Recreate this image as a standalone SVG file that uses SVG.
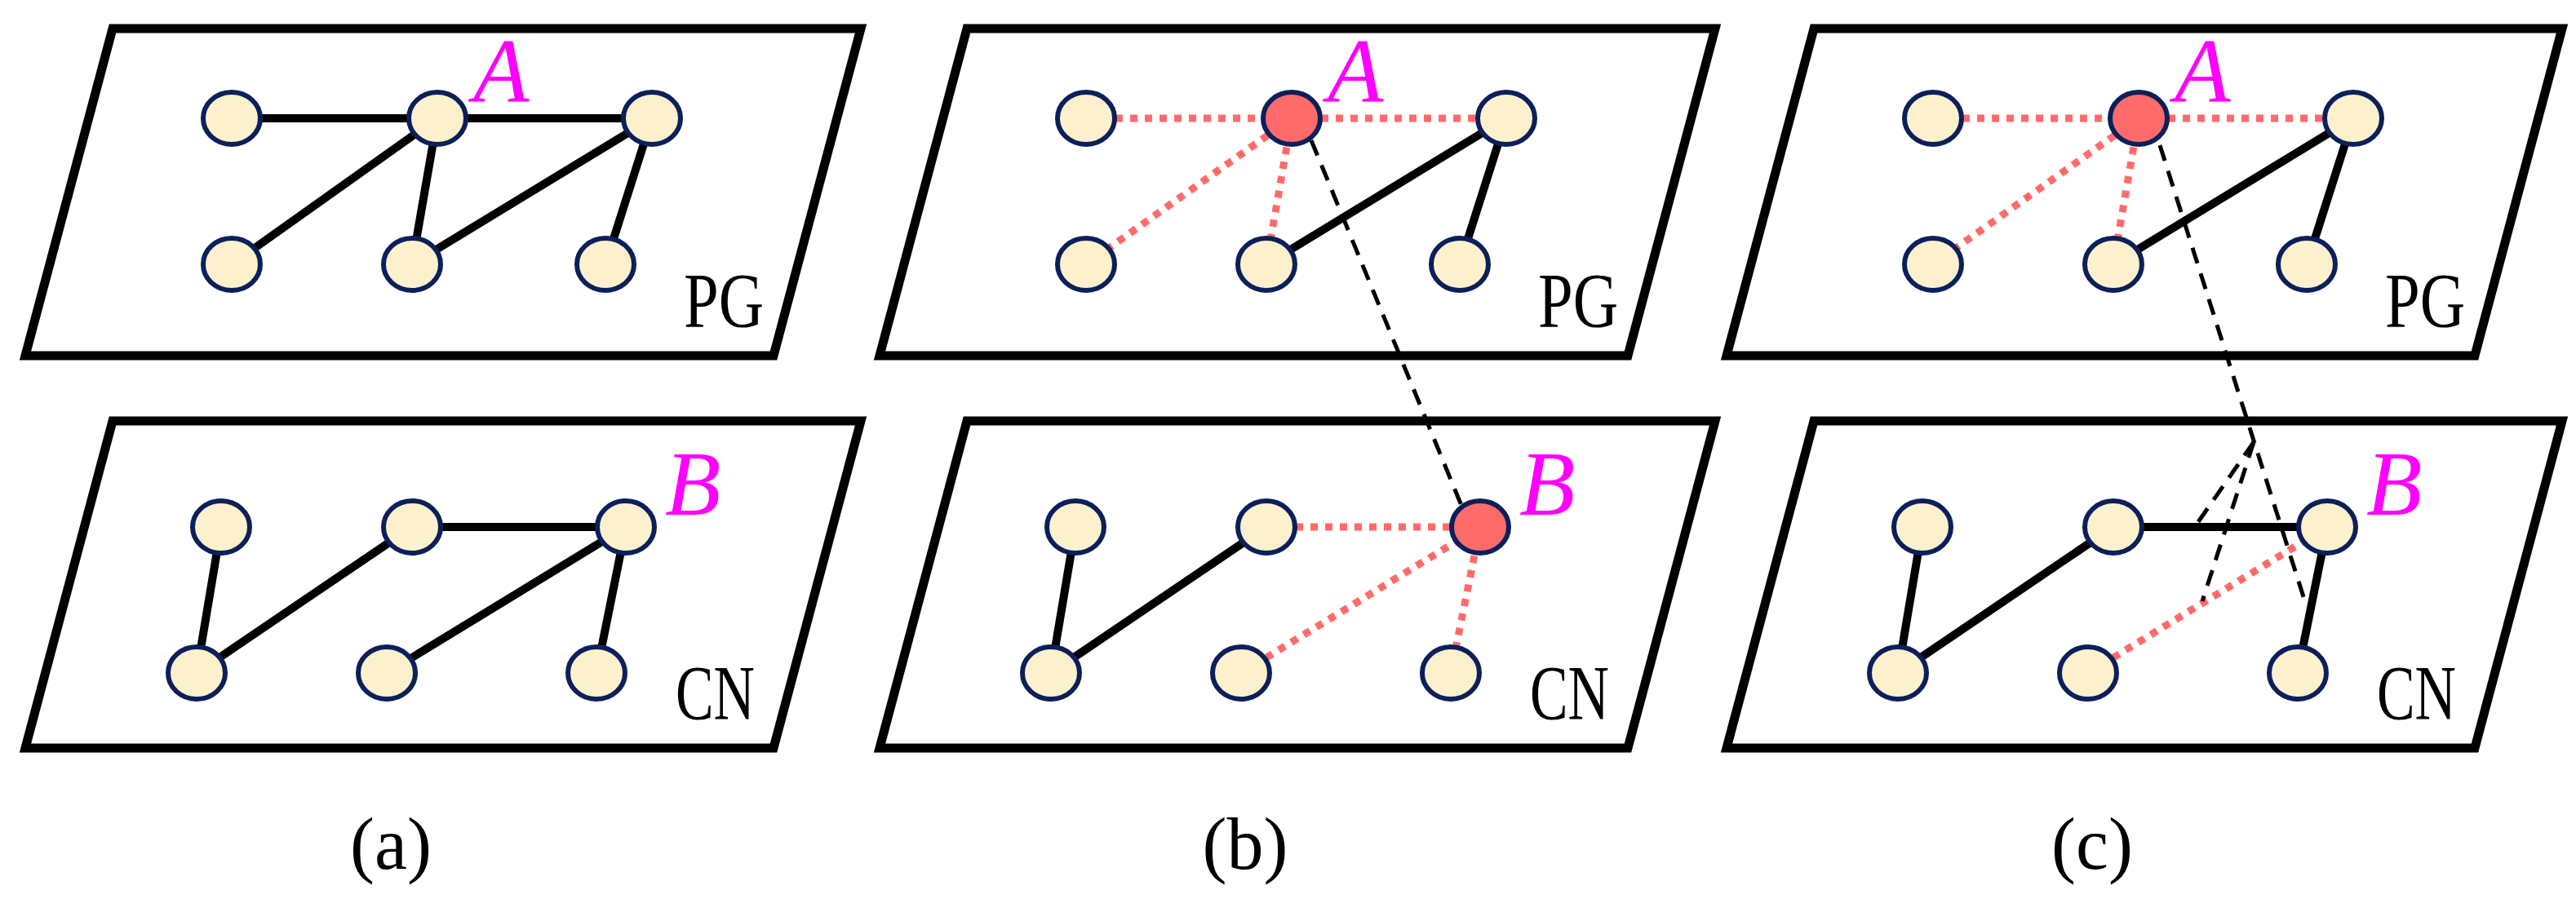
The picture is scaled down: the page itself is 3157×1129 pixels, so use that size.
<svg xmlns="http://www.w3.org/2000/svg" width="3157" height="1129" viewBox="0 0 3157 1129">
<defs>
<style>
.plane{fill:#fff;stroke:#000;stroke-width:11;stroke-linejoin:miter}
.n{fill:#fdf0cc;stroke:#0b1f5a;stroke-width:6}
.r{fill:#ff6b6b;stroke:#0b1f5a;stroke-width:6}
.e{stroke:#000;stroke-width:10;fill:none}
.d{stroke:#ff6b6b;stroke-width:9;stroke-dasharray:9 9;fill:none}
.k{stroke:#000;stroke-width:5;stroke-dasharray:20 13;fill:none}
.lab{font-family:"Liberation Serif",serif;font-size:96px;fill:#000}
.ab{font-family:"Liberation Serif",serif;font-style:italic;font-size:112px;fill:#ff00ff}
.cap{font-family:"Liberation Serif",serif;font-size:90px;fill:#000;text-anchor:middle}
</style>
</defs>
<g id="panel-a">
<polygon class="plane" points="138,35 1055,35 948,436 31,436"/>
<polygon class="plane" points="138,516 1055,516 948,917 31,917"/>
<g id="a-edges">
<line class="e" x1="284" y1="145" x2="536" y2="145"/><line class="e" x1="536" y1="145" x2="799" y2="145"/>
<line class="e" x1="536" y1="145" x2="284" y2="324"/><line class="e" x1="536" y1="145" x2="505" y2="324"/>
<line class="e" x1="505" y1="324" x2="799" y2="145"/><line class="e" x1="799" y1="145" x2="742" y2="324"/>
<line class="e" x1="271" y1="646" x2="241" y2="825"/><line class="e" x1="241" y1="825" x2="505" y2="646"/>
<line class="e" x1="505" y1="646" x2="767" y2="646"/><line class="e" x1="474" y1="825" x2="767" y2="646"/>
<line class="e" x1="767" y1="646" x2="731" y2="825"/>
</g>
<g id="a-nodes">
<ellipse class="n" cx="284" cy="145" rx="35" ry="32"/><ellipse class="n" cx="536" cy="145" rx="35" ry="32"/><ellipse class="n" cx="799" cy="145" rx="35" ry="32"/>
<ellipse class="n" cx="284" cy="324" rx="35" ry="32"/><ellipse class="n" cx="505" cy="324" rx="35" ry="32"/><ellipse class="n" cx="742" cy="324" rx="35" ry="32"/>
<ellipse class="n" cx="271" cy="646" rx="35" ry="32"/><ellipse class="n" cx="505" cy="646" rx="35" ry="32"/><ellipse class="n" cx="767" cy="646" rx="35" ry="32"/>
<ellipse class="n" cx="241" cy="825" rx="35" ry="32"/><ellipse class="n" cx="474" cy="825" rx="35" ry="32"/><ellipse class="n" cx="731" cy="825" rx="35" ry="32"/>
</g>
<text class="ab" x="580" y="125">A</text><text class="ab" x="815" y="631">B</text>
<text class="lab" x="838" y="401" textLength="98" lengthAdjust="spacingAndGlyphs">PG</text>
<text class="lab" x="828" y="882" textLength="97" lengthAdjust="spacingAndGlyphs">CN</text>
<text class="cap" x="479" y="1065">(a)</text>
</g>
<g id="panel-b" transform="translate(1047,0)">
<polygon class="plane" points="138,35 1055,35 948,436 31,436"/>
<polygon class="plane" points="138,516 1055,516 948,917 31,917"/>
<g id="b-edges">
<line class="d" x1="284" y1="145" x2="536" y2="145"/><line class="d" x1="536" y1="145" x2="799" y2="145"/>
<line class="d" x1="536" y1="145" x2="284" y2="324"/><line class="d" x1="536" y1="145" x2="505" y2="324"/>
<line class="e" x1="505" y1="324" x2="799" y2="145"/><line class="e" x1="799" y1="145" x2="742" y2="324"/>
<line class="e" x1="271" y1="646" x2="241" y2="825"/><line class="e" x1="241" y1="825" x2="505" y2="646"/>
<line class="d" x1="505" y1="646" x2="767" y2="646"/><line class="d" x1="474" y1="825" x2="767" y2="646"/>
<line class="d" x1="767" y1="646" x2="731" y2="825"/>
<line class="k" x1="560" y1="172" x2="745" y2="622"/>
</g>
<g id="b-nodes">
<ellipse class="n" cx="284" cy="145" rx="35" ry="32"/><ellipse class="r" cx="536" cy="145" rx="35" ry="32"/><ellipse class="n" cx="799" cy="145" rx="35" ry="32"/>
<ellipse class="n" cx="284" cy="324" rx="35" ry="32"/><ellipse class="n" cx="505" cy="324" rx="35" ry="32"/><ellipse class="n" cx="742" cy="324" rx="35" ry="32"/>
<ellipse class="n" cx="271" cy="646" rx="35" ry="32"/><ellipse class="n" cx="505" cy="646" rx="35" ry="32"/><ellipse class="r" cx="767" cy="646" rx="35" ry="32"/>
<ellipse class="n" cx="241" cy="825" rx="35" ry="32"/><ellipse class="n" cx="474" cy="825" rx="35" ry="32"/><ellipse class="n" cx="731" cy="825" rx="35" ry="32"/>
</g>
<text class="ab" x="580" y="125">A</text><text class="ab" x="815" y="631">B</text>
<text class="lab" x="838" y="401" textLength="98" lengthAdjust="spacingAndGlyphs">PG</text>
<text class="lab" x="828" y="882" textLength="97" lengthAdjust="spacingAndGlyphs">CN</text>
<text class="cap" x="479" y="1065">(b)</text>
</g>
<g id="panel-c" transform="translate(2085,0)">
<polygon class="plane" points="138,35 1055,35 948,436 31,436"/>
<polygon class="plane" points="138,516 1055,516 948,917 31,917"/>
<g id="c-edges">
<line class="d" x1="284" y1="145" x2="536" y2="145"/><line class="d" x1="536" y1="145" x2="799" y2="145"/>
<line class="d" x1="536" y1="145" x2="284" y2="324"/><line class="d" x1="536" y1="145" x2="505" y2="324"/>
<line class="e" x1="505" y1="324" x2="799" y2="145"/><line class="e" x1="799" y1="145" x2="742" y2="324"/>
<line class="e" x1="271" y1="646" x2="241" y2="825"/><line class="e" x1="241" y1="825" x2="505" y2="646"/>
<line class="e" x1="505" y1="646" x2="767" y2="646"/><line class="d" x1="474" y1="825" x2="767" y2="646"/>
<line class="e" x1="767" y1="646" x2="731" y2="825"/>
<polyline class="k" points="562,178 677,540 742,744"/>
<line class="k" x1="677" y1="542" x2="604" y2="647"/>
<line class="k" x1="677" y1="542" x2="614" y2="737"/>
</g>
<g id="c-nodes">
<ellipse class="n" cx="284" cy="145" rx="35" ry="32"/><ellipse class="r" cx="536" cy="145" rx="35" ry="32"/><ellipse class="n" cx="799" cy="145" rx="35" ry="32"/>
<ellipse class="n" cx="284" cy="324" rx="35" ry="32"/><ellipse class="n" cx="505" cy="324" rx="35" ry="32"/><ellipse class="n" cx="742" cy="324" rx="35" ry="32"/>
<ellipse class="n" cx="271" cy="646" rx="35" ry="32"/><ellipse class="n" cx="505" cy="646" rx="35" ry="32"/><ellipse class="n" cx="767" cy="646" rx="35" ry="32"/>
<ellipse class="n" cx="241" cy="825" rx="35" ry="32"/><ellipse class="n" cx="474" cy="825" rx="35" ry="32"/><ellipse class="n" cx="731" cy="825" rx="35" ry="32"/>
</g>
<text class="ab" x="580" y="125">A</text><text class="ab" x="815" y="631">B</text>
<text class="lab" x="838" y="401" textLength="98" lengthAdjust="spacingAndGlyphs">PG</text>
<text class="lab" x="828" y="882" textLength="97" lengthAdjust="spacingAndGlyphs">CN</text>
<text class="cap" x="479" y="1065">(c)</text>
</g>
</svg>
